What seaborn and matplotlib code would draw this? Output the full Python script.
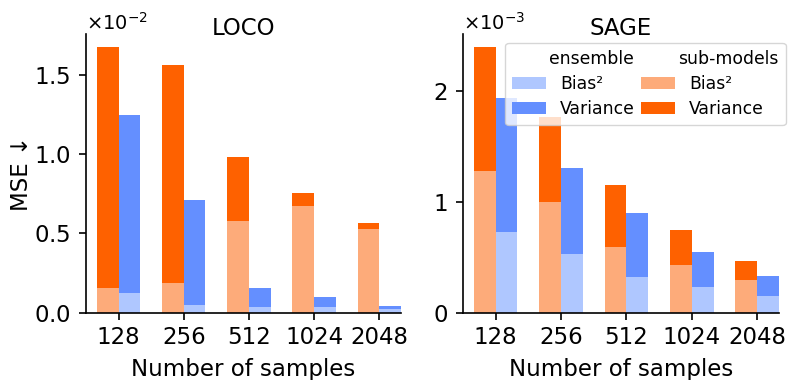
import numpy as np
import pandas as pd
import matplotlib
matplotlib.use("Agg")
import matplotlib.pyplot as plt
import matplotlib.patches as mpatches
from matplotlib.ticker import MultipleLocator
from matplotlib.transforms import Bbox
import seaborn as sns

# ---------------- data ----------------
samples = ["128", "256", "512", "1024", "2048"]

# LOCO (MSE, values in units of 1e-2)
loco_sub_bias = [0.153, 0.184, 0.576, 0.670, 0.525]
loco_sub_var = [1.521, 1.376, 0.404, 0.083, 0.038]
loco_ens_bias = [0.121, 0.045, 0.037, 0.037, 0.025]
loco_ens_var = [1.124, 0.663, 0.120, 0.059, 0.016]

# SAGE (MSE, values in units of 1e-3)
sage_sub_bias = [1.278, 1.000, 0.587, 0.430, 0.289]
sage_sub_var = [1.112, 0.765, 0.565, 0.310, 0.174]
sage_ens_bias = [0.727, 0.523, 0.321, 0.226, 0.150]
sage_ens_var = [1.210, 0.777, 0.572, 0.315, 0.175]

models = ["sub-models", "ensemble"]
panel_titles = ["LOCO", "SAGE"]
panel_scales = [1e-2, 1e-3]
panel_tick_steps = [0.5e-2, 1e-3]

ORANGE = "#FE6100"
ORANGE_L = "#FDAB7A"
BLUE = "#648FFF"
BLUE_L = "#AFC7FF"


def make_df(sub_bias, sub_var, ens_bias, ens_var, scale):
    rows = []
    for i, s in enumerate(samples):
        rows.append(dict(samples=s, model="sub-models",
                         bias=sub_bias[i] * scale,
                         total=(sub_bias[i] + sub_var[i]) * scale))
        rows.append(dict(samples=s, model="ensemble",
                         bias=ens_bias[i] * scale,
                         total=(ens_bias[i] + ens_var[i]) * scale))
    return pd.DataFrame(rows)


dfs = [
    make_df(loco_sub_bias, loco_sub_var, loco_ens_bias, loco_ens_var, panel_scales[0]),
    make_df(sage_sub_bias, sage_sub_var, sage_ens_bias, sage_ens_var, panel_scales[1]),
]

# ---------------- style ----------------
FS = 16.5
plt.rcParams.update({
    "font.family": ["DejaVu Sans"],
    "axes.linewidth": 1.2,
    "xtick.major.width": 1.2,
    "ytick.major.width": 1.2,
    "xtick.major.size": 5,
    "ytick.major.size": 5,
    "xtick.major.pad": 5,
    "ytick.major.pad": 6,
    "xtick.labelsize": FS,
    "ytick.labelsize": FS,
    "axes.labelsize": FS,
    "axes.titlesize": FS,
})

fig = plt.figure(figsize=(7.89, 3.80), dpi=100)
ax1 = fig.add_axes([86 / 789, 1 - 312.5 / 380, (401 - 86) / 789, (312.5 - 34) / 380])
ax2 = fig.add_axes([463 / 789, 1 - 312.5 / 380, (779 - 463) / 789, (312.5 - 34) / 380])

for ax, df, title, step in zip([ax1, ax2], dfs, panel_titles, panel_tick_steps):
    # totals (bias + variance) underneath, bias drawn on top -> stacked look
    sns.barplot(data=df, x="samples", y="total", hue="model", hue_order=models,
                order=samples, palette=[ORANGE, BLUE], width=2 / 3,
                errorbar=None, saturation=1, linewidth=0, legend=False, ax=ax)
    sns.barplot(data=df, x="samples", y="bias", hue="model", hue_order=models,
                order=samples, palette=[ORANGE_L, BLUE_L], width=2 / 3,
                errorbar=None, saturation=1, linewidth=0, legend=False, ax=ax)
    ax.set_xlim(-0.5, len(samples) - 1 + 1 / 3)
    ax.set_ylim(0, df["total"].max() * 1.05)
    ax.yaxis.set_major_locator(MultipleLocator(step))
    ax.ticklabel_format(axis="y", style="sci", scilimits=(0, 0), useMathText=True)
    ax.yaxis.get_offset_text().set_fontsize(14)
    ax.set_title(title, y=1.0, pad=-0.5)
    ax.set_xlabel("Number of samples", labelpad=6)
    ax.set_ylabel("")
    sns.despine(ax=ax)

ax1.set_ylabel("MSE \u2193", labelpad=1)

# ---------------- legend ----------------
handles = [
    mpatches.Patch(facecolor="none", edgecolor="none"),
    mpatches.Patch(facecolor=BLUE_L, edgecolor="none"),
    mpatches.Patch(facecolor=BLUE, edgecolor="none"),
    mpatches.Patch(facecolor="none", edgecolor="none"),
    mpatches.Patch(facecolor=ORANGE_L, edgecolor="none"),
    mpatches.Patch(facecolor=ORANGE, edgecolor="none"),
]
headers = ["ensemble", "sub-models"]
labels = [headers[0], "Bias\u00b2", "Variance", headers[1], "Bias\u00b2", "Variance"]
leg = ax2.legend(handles, labels, ncol=2, fontsize=12.4, loc="upper right",
                 bbox_to_anchor=(785.5 / 789, 1 - 43 / 380),
                 bbox_transform=fig.transFigure, borderaxespad=0,
                 columnspacing=0.35, labelspacing=0.42)

# group headers sit a little to the left of the entry labels
SHIFT = 11
for column in leg._legend_handle_box.get_children():
    for entry in column.get_children():
        tarea = entry.get_children()[-1]
        if tarea._text.get_text() in headers:
            tarea._text.set_x(-SHIFT)
            orig = tarea.get_bbox

            def narrow(renderer, _orig=orig):
                bb = _orig(renderer)
                return Bbox.from_bounds(bb.x0, bb.y0, bb.width - SHIFT, bb.height)

            tarea.get_bbox = narrow

fig.savefig("out.png", dpi=100)
